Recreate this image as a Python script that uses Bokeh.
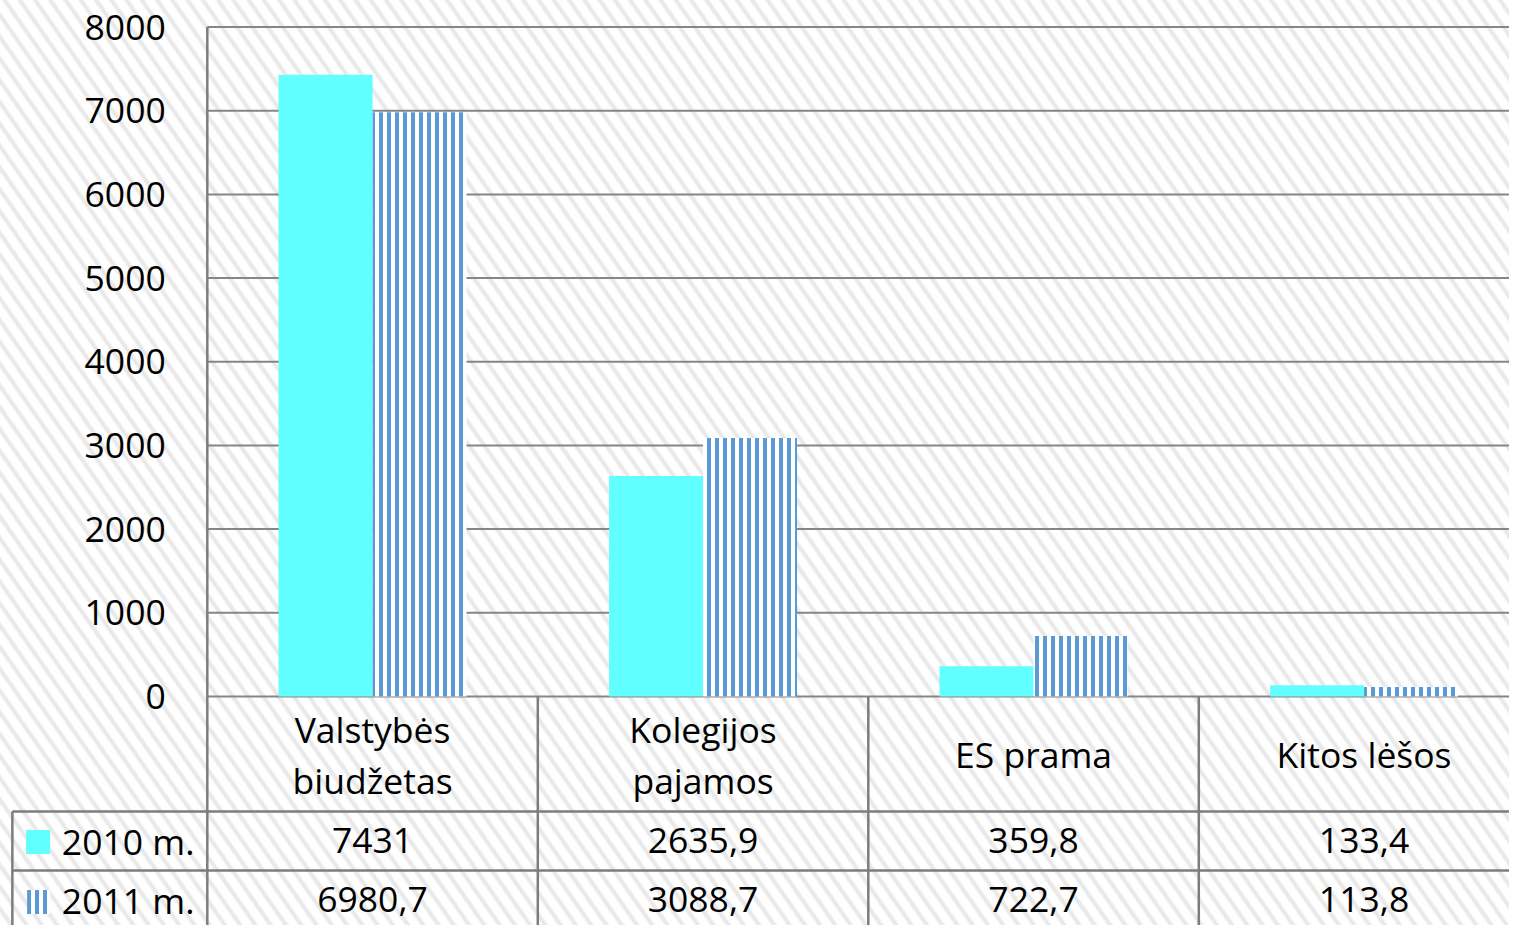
from bokeh.plotting import figure
from bokeh.models import ColumnDataSource
from bokeh.core.properties import value
from bokeh.embed import file_html
from bokeh.resources import INLINE

# ---------------- data ----------------
categories = ["Valstybės\nbiudžetas", "Kolegijos\npajamos", "ES prama", "Kitos lėšos"]
series_names = ["2010 m.", "2011 m."]
values_2010 = [7431, 2635.9, 359.8, 133.4]
values_2011 = [6980.7, 3088.7, 722.7, 113.8]
y_ticks = [0, 1000, 2000, 3000, 4000, 5000, 6000, 7000, 8000]

# ---------------- layout (reference pixels) ----------------
W, H = 1509, 925
REF_W, REF_H = 1525, 941
PLOT_LEFT = 209        # left edge of plot area
COL_W = 334            # width of one category column
ZERO_Y = 708           # pixel row of value 0
PX_PER_UNIT = 85.125 / 1000.0


def px2x(X):
    return (X - PLOT_LEFT) / COL_W


def px2y(Y):
    return (ZERO_Y - Y) / PX_PER_UNIT


FONT = value("Open Sans")
FSIZE = value("35.5px")
CYAN = "#61FFFF"
BLUE = "#5B9BD5"
LINE = "#7d7d7d"

p = figure(width=W, height=H,
           x_range=(px2x(0), px2x(REF_W)),
           y_range=(px2y(REF_H), px2y(0)),
           output_backend="svg", toolbar_location=None,
           x_axis_location=None, y_axis_location=None,
           min_border=0)
p.grid.visible = False
p.outline_line_color = None
p.background_fill_color = None
p.border_fill_color = None
p.styles = {
    "background-color": "#ffffff",
    "background-image": "repeating-linear-gradient(55deg, #ffffff 0px, #ffffff 6px, "
                        "#e8e8e8 8.5px, #e8e8e8 10px, #ffffff 12.5px)",
}

centers = [i + 0.5 for i in range(len(categories))]
bar_w = 95 / COL_W
shift = 47.5 / COL_W

# gridlines
right_edge = px2x(1600)
p.segment(x0=[0] * len(y_ticks), x1=[right_edge] * len(y_ticks),
          y0=y_ticks, y1=y_ticks, line_color="#868686", line_width=2)

# bars
src = ColumnDataSource(dict(
    x10=[c - shift for c in centers], x11=[c + shift for c in centers],
    v10=values_2010, v11=values_2011))
p.vbar(x="x10", top="v10", bottom=0, width=bar_w, source=src,
       fill_color=CYAN, line_color=None)
p.vbar(x="x11", top="v11", bottom=0, width=bar_w, source=src,
       fill_color="#ffffff", line_color=None,
       hatch_pattern="|", hatch_color=BLUE, hatch_scale=8, hatch_weight=4)

# table lines
bottom = px2y(1000)
p.segment(x0=[0], x1=[0], y0=[max(y_ticks)], y1=[bottom], line_color=LINE, line_width=2.5)
p.segment(x0=[1, 2, 3], x1=[1, 2, 3], y0=[0] * 3, y1=[bottom] * 3, line_color=LINE, line_width=2.5)
p.segment(x0=[px2x(12)] * 2, x1=[right_edge] * 2, y0=[px2y(825), px2y(885)],
          y1=[px2y(825), px2y(885)], line_color=LINE, line_width=2.5)
p.segment(x0=[px2x(12)], x1=[px2x(12)], y0=[px2y(825)], y1=[bottom], line_color=LINE, line_width=2.5)

# y tick labels
p.text(x=[px2x(167)] * len(y_ticks), y=y_ticks, text=[str(t) for t in y_ticks],
       text_font=FONT, text_font_size=FSIZE, text_align="right",
       text_baseline="middle", text_color="#000000")

# category labels
lx, ly, lt = [], [], []
for c, name in zip(centers, categories):
    lines = name.split("\n")
    n = len(lines)
    for k, ln in enumerate(lines):
        lx.append(c)
        ly.append(px2y(767 + (k - (n - 1) / 2) * 51))
        lt.append(ln)
p.text(x=lx, y=ly, text=lt, text_font=FONT, text_font_size=FSIZE,
       text_align="center", text_baseline="middle", text_color="#000000")


def fmt(v):
    return f"{v:g}".replace(".", ",")


# table values
for Y, vals in ((855, values_2010), (915, values_2011)):
    p.text(x=centers, y=[px2y(Y)] * len(centers), text=[fmt(v) for v in vals],
           text_font=FONT, text_font_size=FSIZE, text_align="center",
           text_baseline="middle", text_color="#000000")

# legend column
p.text(x=[px2x(62)] * 2, y=[px2y(855), px2y(915)], text=series_names,
       text_font=FONT, text_font_size=FSIZE, text_align="left",
       text_baseline="middle", text_color="#000000")
p.rect(x=[px2x(38)], y=[px2y(856)], width=24, height=24,
       width_units="screen", height_units="screen",
       fill_color=CYAN, line_color=None)
p.rect(x=[px2x(38.5)], y=[px2y(917)], width=23, height=24,
       width_units="screen", height_units="screen",
       fill_color="#ffffff", line_color=None,
       hatch_pattern="|", hatch_color=BLUE, hatch_scale=8, hatch_weight=4)

open("out.html", "w").write(file_html(p, INLINE))
